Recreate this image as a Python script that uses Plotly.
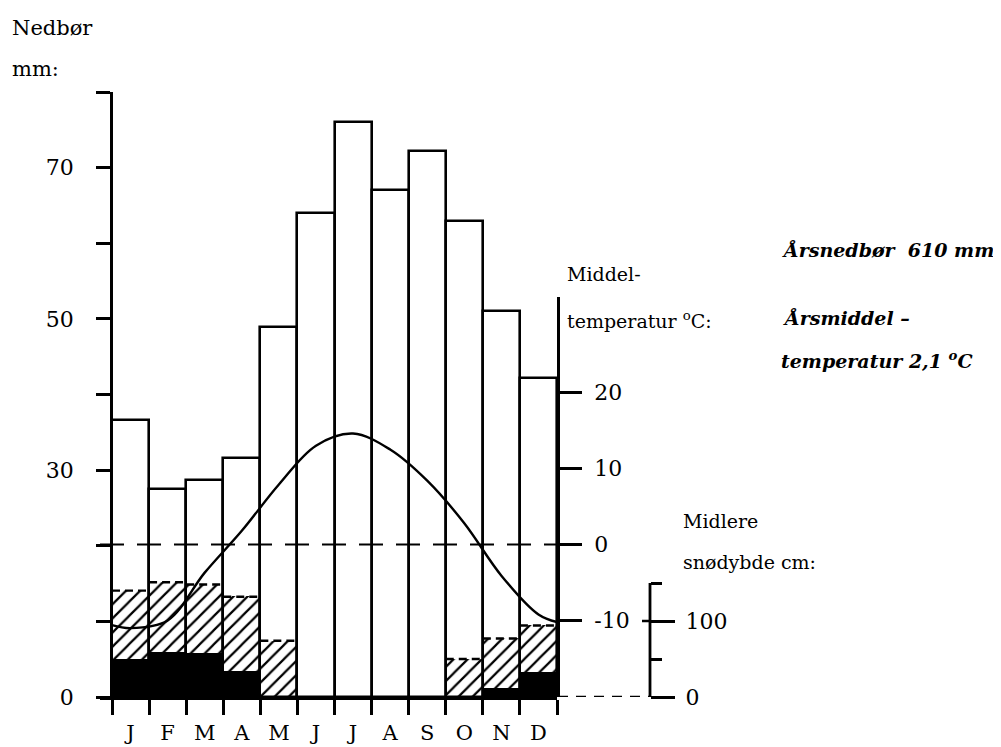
import plotly.graph_objects as go

# ---------------- data ----------------
months = ['J', 'F', 'M', 'A', 'M', 'J', 'J', 'A', 'S', 'O', 'N', 'D']
month_pos = list(range(1, 13))
precip_mm = [36.6, 27.5, 28.7, 31.6, 48.9, 64.0, 76.0, 67.1, 72.2, 63.0, 51.1, 42.2]
snow_depth_cm = [140, 151, 148, 132, 74, 0, 0, 0, 0, 50, 77, 94]
snow_black_cm = [50, 59, 58, 34, 0, 0, 0, 0, 0, 0, 12, 32]
temp_x = [0.5, 1, 2, 3, 4, 5, 6, 7, 8, 9, 10, 11, 12, 12.5]
temp_c = [-10.6, -11.0, -10.0, -3.7, 1.8, 7.9, 13.0, 14.6, 12.5, 8.4, 2.8, -4.1, -9.2, -10.2]

precip_ticks = [0, 30, 50, 70]
precip_ticklabels = ['0', '30', '50', '70']
precip_minor_ticks = [10, 20, 40, 60, 80]
temp_ticks = [-10, 0, 10, 20]
temp_ticklabels = ['-10', '0', '10', '20']
snow_ticks = [0, 100]
snow_ticklabels = ['0', '100']
snow_minor_ticks = [50, 150]

# page body has an 8px margin -> figure is offset by 8px
OFF = 8
W, H = 1001 - OFF, 747 - OFF
def px(x):
    return (x - OFF) / W
def py(y):
    return 1 - (y - OFF) / H

SERIF = 'DejaVu Serif'
BLACK = 'black'

fig = go.Figure()

# precipitation bars
fig.add_trace(go.Bar(
    x=month_pos, y=precip_mm, width=1, xaxis='x', yaxis='y',
    marker=dict(color='white', line=dict(color=BLACK, width=2.6)),
    showlegend=False, hoverinfo='skip'))

# snow depth (hatched)
fig.add_trace(go.Bar(
    x=month_pos, y=snow_depth_cm, width=1, xaxis='x', yaxis='y2',
    marker=dict(color=BLACK, line=dict(width=0),
                pattern=dict(shape='/', fillmode='replace', fgcolor=BLACK,
                             size=10, solidity=0.22)),
    showlegend=False, hoverinfo='skip'))

# black part
fig.add_trace(go.Bar(
    x=month_pos, y=snow_black_cm, width=1, xaxis='x', yaxis='y2',
    marker=dict(color=BLACK, line=dict(width=0)),
    showlegend=False, hoverinfo='skip'))

# dashed tops of snow bars
sx, sy = [], []
for m, s in zip(month_pos, snow_depth_cm):
    if s > 0:
        sx += [m - 0.5, m + 0.5, None]
        sy += [s, s, None]
fig.add_trace(go.Scatter(
    x=sx, y=sy, mode='lines', xaxis='x', yaxis='y2',
    line=dict(color=BLACK, width=2.4, dash='8px,5px'),
    showlegend=False, hoverinfo='skip'))

# 0 degree dashed line
x_start = 0.5 - 12 / 37.083
fig.add_trace(go.Scatter(
    x=[x_start, 12.5], y=[0, 0], mode='lines', xaxis='x', yaxis='y3',
    line=dict(color=BLACK, width=2.2, dash='24px,13px'),
    showlegend=False, hoverinfo='skip'))

# temperature curve
fig.add_trace(go.Scatter(
    x=temp_x, y=temp_c, mode='lines', xaxis='x', yaxis='y3',
    line=dict(color=BLACK, width=2.4, shape='spline', smoothing=1.0),
    showlegend=False, hoverinfo='skip'))

tickfont = dict(family=SERIF, size=22, color=BLACK)

fig.update_layout(
    width=W, height=H,
    margin=dict(l=0, r=0, t=0, b=0),
    paper_bgcolor='white', plot_bgcolor='rgba(0,0,0,0)',
    barmode='overlay', bargap=0,
    template='none',
    showlegend=False,
    xaxis=dict(
        domain=[px(100), px(557)], range=[x_start, 12.5], anchor='y',
        showline=True, linecolor=BLACK, linewidth=2.8,
        tickmode='array', tickvals=month_pos, ticktext=months, ticks='',
        ticklabelstandoff=15, tickfont=dict(family=SERIF, size=21, color=BLACK),
        minor=dict(tickmode='array', tickvals=[m - 0.5 for m in month_pos] + [12.5],
                   ticks='outside', ticklen=15, tickwidth=2.5, tickcolor=BLACK),
        showgrid=False, zeroline=False, automargin=False, fixedrange=True),
    yaxis=dict(
        domain=[py(697), py(92)], range=[0, 80], anchor='free', position=px(111),
        side='left', showline=True, linecolor=BLACK, linewidth=2.8,
        tickmode='array', tickvals=precip_ticks, ticktext=precip_ticklabels,
        ticks='outside', ticklen=14, tickwidth=2.5, tickcolor=BLACK,
        ticklabelstandoff=18, tickfont=tickfont,
        minor=dict(tickmode='array', tickvals=precip_minor_ticks, ticks='outside',
                   ticklen=14, tickwidth=2.5, tickcolor=BLACK),
        showgrid=False, zeroline=False, automargin=False, fixedrange=True),
    yaxis2=dict(
        domain=[py(697), py(697 - 180 * 0.76)], range=[0, 180], anchor='free',
        position=px(650), side='right', showline=False,
        tickmode='array', tickvals=snow_ticks, ticktext=snow_ticklabels,
        ticks='outside', ticklen=24, tickwidth=2.5, tickcolor=BLACK,
        ticklabelstandoff=6, tickfont=tickfont,
        minor=dict(tickmode='array', tickvals=snow_minor_ticks, ticks='outside',
                   ticklen=11, tickwidth=2.5, tickcolor=BLACK),
        showgrid=False, zeroline=False, automargin=False, fixedrange=True),
    yaxis3=dict(
        domain=[py(697), py(297)], range=[(544.5 - 697) / 7.6, (544.5 - 297) / 7.6],
        anchor='x', side='right', showline=True, linecolor=BLACK, linewidth=2.8,
        tickmode='array', tickvals=temp_ticks, ticktext=temp_ticklabels,
        ticks='outside', ticklen=22, tickwidth=2.5, tickcolor=BLACK,
        ticklabelstandoff=8, tickfont=tickfont,
        showgrid=False, zeroline=False, automargin=False, fixedrange=True),
)

# snow axis line, crossing tick and dashed base
fig.add_shape(type='line', xref='paper', yref='y2', x0=px(650), x1=px(650), y0=0, y1=150,
              line=dict(color=BLACK, width=2.8))
fig.add_shape(type='line', xref='paper', yref='y2', x0=px(642), x1=px(650), y0=100, y1=100,
              line=dict(color=BLACK, width=2.5))
fig.add_shape(type='line', xref='paper', yref='y', x0=px(558), x1=px(650), y0=0, y1=0,
              line=dict(color=BLACK, width=2.6, dash='10px,8px'))

def note(text, x, y, size=20, family=SERIF, anchor='left'):
    fig.add_annotation(text=text, x=px(x), y=py(y), xref='paper', yref='paper',
                       xanchor=anchor, yanchor='middle', showarrow=False,
                       font=dict(family=family, size=size, color=BLACK))

note('Nedbør', 10, 28, size=21)
note('mm:', 10, 69, size=21)
note('Middel-', 565, 274, size=19)
note('temperatur <sup>o</sup>C:', 565, 320, size=19)
note('Midlere', 681, 521, size=19)
note('snødybde cm:', 681, 562, size=19)

ITAL = 'DejaVu Serif'
note('<b><i>Årsnedbør  610 mm</i></b>', 780, 250, size=19, family=ITAL)
note('<b><i>Årsmiddel –</i></b>', 781, 318, size=19, family=ITAL)
note('<b><i>temperatur 2,1 <sup>o</sup>C</i></b>', 779, 360, size=19, family=ITAL)

fig.write_html('out.html')
